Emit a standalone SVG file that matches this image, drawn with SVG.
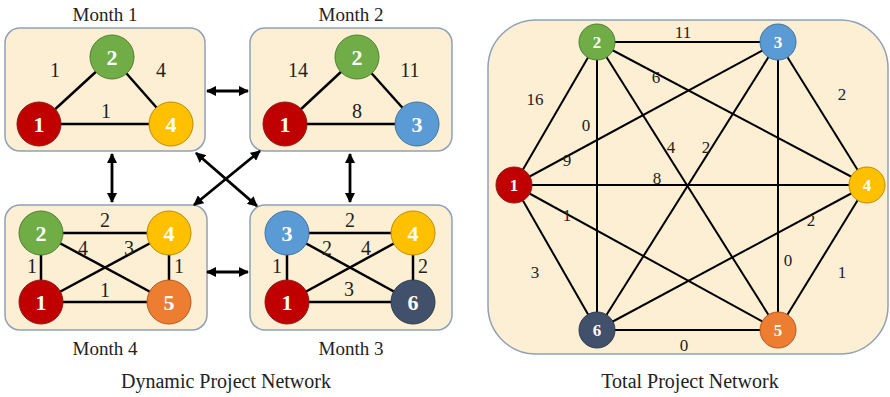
<svg xmlns="http://www.w3.org/2000/svg" width="890" height="397" viewBox="0 0 890 397">
<style>
.box{fill:#FDEFD3;stroke:#8EA1B8;stroke-width:1.5}
.e{stroke:#000;stroke-width:2.5;fill:none}
.te{stroke:#000;stroke-width:2;fill:none}
.arr{stroke:#000;stroke-width:2.8;fill:none;marker-start:url(#ah);marker-end:url(#ah)}
.title{font-family:"Liberation Serif",serif;font-size:19px;fill:#222;text-anchor:middle}
.cap{font-family:"Liberation Serif",serif;font-size:20px;fill:#222;text-anchor:middle}
.lb{font-family:"Liberation Serif",serif;font-size:20px;fill:#222;text-anchor:middle}
.tl{font-family:"Liberation Serif",serif;font-size:17px;fill:#222;text-anchor:middle}
.nt{font-family:"Liberation Serif",serif;font-weight:bold;font-size:22px;fill:#fff;text-anchor:middle}
.ntt{font-family:"Liberation Serif",serif;font-weight:bold;font-size:17px;fill:#fff;text-anchor:middle}
.c1{fill:#C00000;stroke:#8B1A1A;stroke-width:1}
.c2{fill:#70AD47;stroke:#507E32;stroke-width:1}
.c3{fill:#5B9BD5;stroke:#41719C;stroke-width:1}
.c4{fill:#FFC000;stroke:#BC8C00;stroke-width:1}
.c5{fill:#ED7D31;stroke:#AE5A21;stroke-width:1}
.c6{fill:#41506B;stroke:#2F3B4B;stroke-width:1}
</style>
<defs>
<marker id="ah" viewBox="0 0 10 10" refX="9" refY="5" markerWidth="3.6" markerHeight="3.6" orient="auto-start-reverse" markerUnits="strokeWidth">
<path d="M0,0 L10,5 L0,10 z" fill="#000"/>
</marker>
</defs>

<g id="month1">
<text class="title" x="105" y="21">Month 1</text>
<rect class="box" x="5" y="28" width="200" height="123" rx="15"/>
<line class="e" x1="112" y1="57" x2="39" y2="124"/>
<line class="e" x1="112" y1="57" x2="171" y2="124"/>
<line class="e" x1="39" y1="124" x2="171" y2="124"/>
<text class="lb" x="55" y="77">1</text>
<text class="lb" x="161" y="77">4</text>
<text class="lb" x="106" y="118">1</text>
<g id="m1n2"><circle class="c2" cx="112" cy="57" r="22"/><text class="nt" x="112" y="65">2</text></g>
<g id="m1n1"><circle class="c1" cx="39" cy="124" r="22"/><text class="nt" x="39" y="132">1</text></g>
<g id="m1n4"><circle class="c4" cx="171" cy="124" r="22"/><text class="nt" x="171" y="132">4</text></g>
</g>

<g id="month2">
<text class="title" x="351" y="21">Month 2</text>
<rect class="box" x="250" y="28" width="202" height="123" rx="15"/>
<line class="e" x1="357" y1="57" x2="285" y2="124"/>
<line class="e" x1="357" y1="57" x2="417" y2="124"/>
<line class="e" x1="285" y1="124" x2="417" y2="124"/>
<text class="lb" x="298" y="77">14</text>
<text class="lb" x="410" y="77">11</text>
<text class="lb" x="357" y="118">8</text>
<g id="m2n2"><circle class="c2" cx="357" cy="57" r="22"/><text class="nt" x="357" y="65">2</text></g>
<g id="m2n1"><circle class="c1" cx="285" cy="124" r="22"/><text class="nt" x="285" y="132">1</text></g>
<g id="m2n3"><circle class="c3" cx="417" cy="124" r="22"/><text class="nt" x="417" y="132">3</text></g>
</g>

<g id="month4">
<rect class="box" x="5" y="205" width="202" height="125" rx="15"/>
<line class="e" x1="41" y1="233" x2="169" y2="233"/>
<line class="e" x1="41" y1="233" x2="169" y2="302"/>
<line class="e" x1="169" y1="233" x2="41" y2="302"/>
<line class="e" x1="41" y1="233" x2="41" y2="302"/>
<line class="e" x1="169" y1="233" x2="169" y2="302"/>
<line class="e" x1="41" y1="302" x2="169" y2="302"/>
<text class="lb" x="105" y="227">2</text>
<text class="lb" x="83" y="255">4</text>
<text class="lb" x="129" y="255">3</text>
<text class="lb" x="32" y="273">1</text>
<text class="lb" x="179" y="273">1</text>
<text class="lb" x="105" y="297">1</text>
<g id="m4n2"><circle class="c2" cx="41" cy="233" r="22"/><text class="nt" x="41" y="241">2</text></g>
<g id="m4n4"><circle class="c4" cx="169" cy="233" r="22"/><text class="nt" x="169" y="241">4</text></g>
<g id="m4n1"><circle class="c1" cx="41" cy="302" r="22"/><text class="nt" x="41" y="310">1</text></g>
<g id="m4n5"><circle class="c5" cx="169" cy="302" r="22"/><text class="nt" x="169" y="310">5</text></g>
<text class="title" x="105" y="355">Month 4</text>
</g>

<g id="month3">
<rect class="box" x="250" y="205" width="202" height="125" rx="15"/>
<line class="e" x1="287" y1="233" x2="413" y2="233"/>
<line class="e" x1="287" y1="233" x2="413" y2="302"/>
<line class="e" x1="413" y1="233" x2="287" y2="302"/>
<line class="e" x1="287" y1="233" x2="287" y2="302"/>
<line class="e" x1="413" y1="233" x2="413" y2="302"/>
<line class="e" x1="287" y1="302" x2="413" y2="302"/>
<text class="lb" x="350" y="227">2</text>
<text class="lb" x="327" y="255">2</text>
<text class="lb" x="366" y="255">4</text>
<text class="lb" x="277" y="273">1</text>
<text class="lb" x="423" y="273">2</text>
<text class="lb" x="349" y="296">3</text>
<g id="m3n3"><circle class="c3" cx="287" cy="233" r="22"/><text class="nt" x="287" y="241">3</text></g>
<g id="m3n4"><circle class="c4" cx="413" cy="233" r="22"/><text class="nt" x="413" y="241">4</text></g>
<g id="m3n1"><circle class="c1" cx="287" cy="302" r="22"/><text class="nt" x="287" y="310">1</text></g>
<g id="m3n6"><circle class="c6" cx="413" cy="302" r="22"/><text class="nt" x="413" y="310">6</text></g>
<text class="title" x="351" y="355">Month 3</text>
</g>

<g id="connectors">
<line class="arr" x1="207" y1="91" x2="248" y2="91"/>
<line class="arr" x1="207" y1="272" x2="248" y2="272"/>
<line class="arr" x1="112" y1="154" x2="112" y2="202"/>
<line class="arr" x1="350" y1="154" x2="350" y2="202"/>
<line class="arr" x1="196" y1="153" x2="257" y2="206"/>
<line class="arr" x1="260" y1="151" x2="194" y2="205"/>
</g>

<text class="cap" x="226" y="388">Dynamic Project Network</text>

<g id="total">
<rect class="box" x="488" y="20" width="400" height="334" rx="48"/>
<g id="total-edges">
<line class="te" x1="597" y1="42" x2="778" y2="42"/>
<line class="te" x1="597" y1="42" x2="514" y2="185"/>
<line class="te" x1="778" y1="42" x2="867" y2="185"/>
<line class="te" x1="514" y1="185" x2="597" y2="330"/>
<line class="te" x1="597" y1="330" x2="778" y2="330"/>
<line class="te" x1="778" y1="330" x2="867" y2="185"/>
<line class="te" x1="597" y1="42" x2="597" y2="330"/>
<line class="te" x1="778" y1="42" x2="778" y2="330"/>
<line class="te" x1="597" y1="42" x2="778" y2="330"/>
<line class="te" x1="597" y1="42" x2="867" y2="185"/>
<line class="te" x1="778" y1="42" x2="514" y2="185"/>
<line class="te" x1="778" y1="42" x2="597" y2="330"/>
<line class="te" x1="514" y1="185" x2="867" y2="185"/>
<line class="te" x1="514" y1="185" x2="778" y2="330"/>
<line class="te" x1="597" y1="330" x2="867" y2="185"/>
</g>
<text class="tl" x="683" y="38">11</text>
<text class="tl" x="535" y="105">16</text>
<text class="tl" x="586" y="131">0</text>
<text class="tl" x="656" y="83">6</text>
<text class="tl" x="842" y="100">2</text>
<text class="tl" x="671" y="153">4</text>
<text class="tl" x="706" y="153">2</text>
<text class="tl" x="567" y="166">9</text>
<text class="tl" x="657" y="184">8</text>
<text class="tl" x="567" y="221">1</text>
<text class="tl" x="811" y="226">2</text>
<text class="tl" x="788" y="266">0</text>
<text class="tl" x="842" y="278">1</text>
<text class="tl" x="535" y="278">3</text>
<text class="tl" x="684" y="351">0</text>
<g id="tn2"><circle class="c2" cx="597" cy="42" r="18"/><text class="ntt" x="597" y="48">2</text></g>
<g id="tn3"><circle class="c3" cx="778" cy="42" r="18"/><text class="ntt" x="778" y="48">3</text></g>
<g id="tn1"><circle class="c1" cx="514" cy="185" r="18"/><text class="ntt" x="514" y="191">1</text></g>
<g id="tn4"><circle class="c4" cx="867" cy="185" r="18"/><text class="ntt" x="867" y="191">4</text></g>
<g id="tn6"><circle class="c6" cx="597" cy="330" r="18"/><text class="ntt" x="597" y="336">6</text></g>
<g id="tn5"><circle class="c5" cx="778" cy="330" r="18"/><text class="ntt" x="778" y="336">5</text></g>
</g>
<text class="cap" x="690" y="388">Total Project Network</text>
</svg>
